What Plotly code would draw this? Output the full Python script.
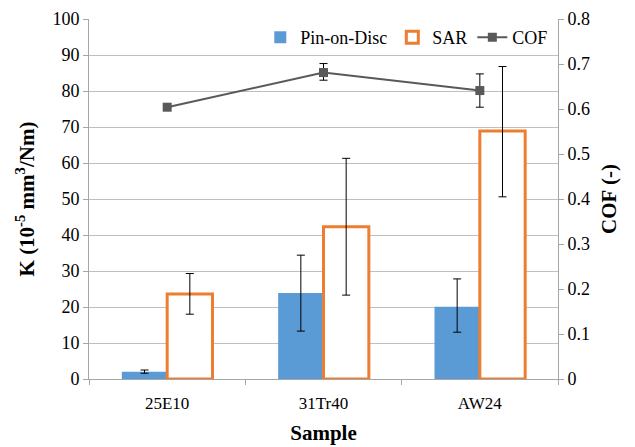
import plotly.graph_objects as go

samples = ["25E10", "31Tr40", "AW24"]
pod = [2.0, 23.9, 20.1]
pod_hi = [2.5, 34.4, 27.8]
pod_lo = [1.6, 13.3, 13.0]
sar = [23.6, 42.3, 68.9]
sar_hi = [29.3, 61.3, 86.8]
sar_lo = [18.0, 23.3, 50.6]
cof = [0.604, 0.681, 0.641]
cof_hi = [0.604, 0.701, 0.678]
cof_lo = [0.604, 0.664, 0.604]

def plus(v, hi):
    return [h - x for x, h in zip(v, hi)]

def minus(v, lo):
    return [x - l for x, l in zip(v, lo)]

FONT = "Liberation Serif, Times New Roman, serif"
def f(size):
    return dict(family=FONT, size=size, color="#000000")

fig = go.Figure()
fig.add_trace(go.Bar(
    x=samples, y=pod, name="Pin-on-Disc",
    marker=dict(color="#5B9BD5", line=dict(width=0)),
    error_y=dict(type="data", array=plus(pod, pod_hi), arrayminus=minus(pod, pod_lo),
                 color="#000000", thickness=1, width=4),
))
fig.add_trace(go.Bar(
    x=samples, y=sar, name="SAR",
    marker=dict(color="#FFFFFF", line=dict(color="#ED7D31", width=3)),
    error_y=dict(type="data", array=plus(sar, sar_hi), arrayminus=minus(sar, sar_lo),
                 color="#000000", thickness=1, width=4),
))
fig.add_trace(go.Scatter(
    x=samples, y=cof, name="COF", yaxis="y2", mode="lines+markers",
    line=dict(color="#595959", width=2),
    marker=dict(symbol="square", size=9, color="#595959"),
    error_y=dict(type="data", array=plus(cof, cof_hi), arrayminus=minus(cof, cof_lo),
                 color="#000000", thickness=1, width=4),
))

fig.update_layout(
    width=635, height=447,
    margin=dict(l=89, r=77, t=19, b=68, autoexpand=False),
    paper_bgcolor="white", plot_bgcolor="white",
    barmode="group", bargap=0.42, bargroupgap=0,
    font=f(16),
    showlegend=True,
    legend=dict(orientation="h", x=0.99, xanchor="right", y=1.0, yanchor="top",
                font=f(18), bgcolor="rgba(255,255,255,0)",
                tracegroupgap=0),
    xaxis=dict(
        type="category", showline=True, linecolor="#A6A6A6", linewidth=1,
        ticks="outside", tickson="boundaries", ticklen=5, tickcolor="#A6A6A6",
        showgrid=False, tickfont=f(17), ticklabelstandoff=9, automargin=False,
        title=dict(text="<b>Sample</b>", font=f(21), standoff=12),
    ),
    yaxis=dict(
        range=[0, 100], dtick=10, showline=True, linecolor="#A6A6A6", linewidth=1,
        ticks="outside", ticklen=5, tickcolor="#A6A6A6", automargin=False,
        gridcolor="#BFBFBF", gridwidth=1, zeroline=False, tickfont=f(18),
        title=dict(text="<b>K (10<sup>-5</sup> mm<sup>3</sup>/Nm)</b>", font=f(21), standoff=12),
    ),
    yaxis2=dict(
        range=[0, 0.8], dtick=0.1, overlaying="y", side="right",
        showline=True, linecolor="#A6A6A6", linewidth=1, automargin=False,
        ticks="outside", ticklen=5, tickcolor="#A6A6A6",
        showgrid=False, zeroline=False, tickfont=f(18),
        title=dict(text="<b>COF (-)</b>", font=f(21), standoff=12),
    ),
)
fig.write_html("out.html")
